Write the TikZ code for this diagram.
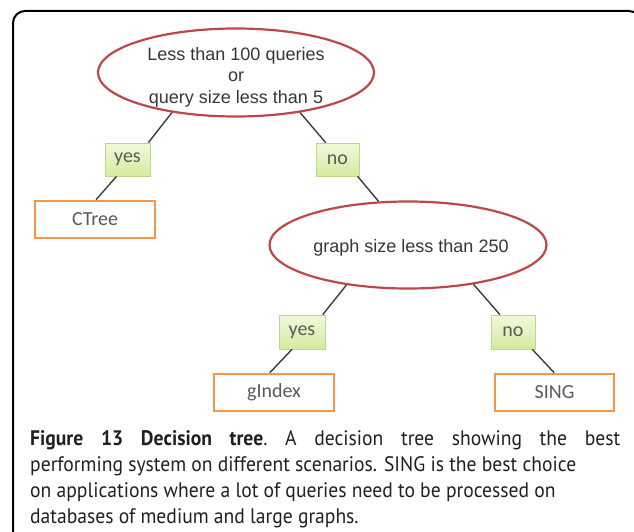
\documentclass[tikz,border=0pt]{standalone}
\usepackage{fontspec}
\setmainfont{Liberation Sans}
\newfontfamily\capfont{PT Sans}
\newfontfamily\boxfont{Carlito}
\usetikzlibrary{shapes.geometric}
\definecolor{ellred}{RGB}{188,72,74}
\definecolor{boxorange}{RGB}{247,150,70}
\definecolor{greentop}{RGB}{242,249,220}
\definecolor{greenbot}{RGB}{210,235,158}
\definecolor{greenedge}{RGB}{190,215,140}
\definecolor{linegray}{RGB}{60,60,60}
\definecolor{txtgray}{RGB}{55,55,55}
\definecolor{boxtxt}{RGB}{90,90,90}
\definecolor{captxt}{RGB}{35,31,32}
\newlength\capw
\newcommand\captwo{performing system on different scenarios. SING is the best choice}
\newcommand\cw[1]{\scalebox{\capfg}[1]{#1}}
\newcommand\cwb[1]{\scalebox{\capfg}[1]{\bfseries #1}}
\begin{document}
\begin{tikzpicture}[x=1pt,y=-1pt,
  cond/.style={ellipse, draw=ellred, line width=2.2pt, fill=white, inner sep=0pt},
  condtext/.style={inner sep=0pt, font=\fontsize{18}{21.5}\selectfont, text=txtgray, align=center},
  answer/.style={rectangle, draw=boxorange, line width=2.6pt, fill=white, inner sep=0pt,
    font=\boxfont\fontsize{20}{23}\selectfont, text=boxtxt},
  choice/.style={rectangle, draw=greenedge, line width=0.8pt, top color=greentop,
    bottom color=greenbot, inner sep=0pt,
    font=\boxfont\fontsize{20}{23}\selectfont, text=boxtxt},
  link/.style={draw=linegray, line width=1.4pt},
  capline/.style={anchor=base west, inner sep=0pt,
    font=\capfont\fontsize{21}{25}\selectfont, text=captxt}
]
\useasboundingbox (0,0) rectangle (634,532);
\begin{scope}
  \clip (0,0) rectangle (634,532);
  \draw[line width=2pt, rounded corners=12pt] (13,11) rectangle (641,560);
\end{scope}

% decision nodes
\node[cond, minimum width=276pt, minimum height=88pt] (e1) at (236,72.5) {};
\node[condtext] (e1t) at (236,77) {Less than 100 queries\\or\\query size less than 5};
\node[cond, minimum width=277pt, minimum height=87pt] (e2) at (408,245) {};
\node[condtext] (e2t) at (411,247.5) {graph size less than 250};

% yes / no labels
\node[choice, minimum width=45pt, minimum height=33pt] (yes1) at (127.5,159.5) {yes};
\node[choice, minimum width=43pt, minimum height=33pt] (no1) at (337.5,159.5) {no};
\node[choice, minimum width=46pt, minimum height=34pt] (yes2) at (302,332) {yes};
\node[choice, minimum width=44pt, minimum height=34pt] (no2) at (513,332) {no};

% answers
\node[answer, minimum width=120pt, minimum height=37pt] (ctree) at (95,219.5) {CTree};
\node[answer, minimum width=120pt, minimum height=37pt] (gindex) at (274,392.5) {gIndex};
\node[answer, minimum width=119pt, minimum height=37pt] (sing) at (554.5,392.5) {SING};

% connectors
\draw[link] (e1.212) -- (yes1.39);
\draw[link] (yes1.237) -- (ctree.87);
\draw[link] (e1.328) -- (no1.125);
\draw[link] (no1.320) -- (e2.124);
\draw[link] (e2.213) -- (yes2.40);
\draw[link] (yes2.240) -- (gindex.102);
\draw[link] (e2.329) -- (no2.127);
\draw[link] (no2.318) -- (sing.91.5);

% caption
\node[capline] (cap2) at (30,471.5) {\settowidth\capw{\captwo}%
  \pgfmathsetmacro\capf{546/\capw}\global\let\capfg\capf
  \scalebox{\capf}[1]{\captwo}};
\node[capline] (cap1) at (30,445.5) {\hbox to 590pt{%
  \cwb{Figure}\hfill\cwb{13}\hfill\cwb{Decision}\hfill\cwb{tree}\cw{.}\hfill
  \cw{A}\hfill\cw{decision}\hfill\cw{tree}\hfill\cw{showing}\hfill\cw{the}\hfill\cw{best}}};
\node[capline] (cap3) at (30,497.5) {\cw{on applications where a lot of queries need to be processed on}};
\node[capline] (cap4) at (30,523.5) {\cw{databases of medium and large graphs.}};
\end{tikzpicture}
\end{document}
